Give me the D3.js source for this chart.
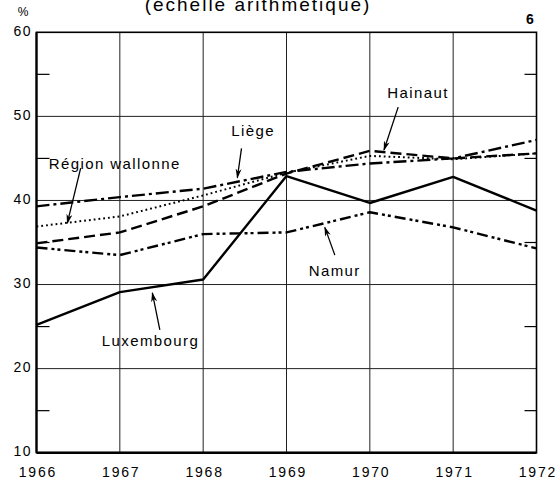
<!DOCTYPE html>
<html>
<head>
<meta charset="utf-8">
<script src="https://cdn.jsdelivr.net/npm/d3@7"></script>
<style>
  body { margin: 0; background: #fff; }
  svg { display: block; font-family: "Liberation Sans", Arial, sans-serif; }
</style>
</head>
<body>
<script>
//data
var years = [1966, 1967, 1968, 1969, 1970, 1971, 1972];
var yTicks = [10, 20, 30, 40, 50, 60];
var halfTicks = [15, 25, 35, 45, 55];

var luxembourg = [25.2, 29.1, 30.6, 42.9, 39.7, 42.8, 38.8];
var namur = [34.4, 33.5, 36.0, 36.2, 38.6, 36.8, 34.3];
var hainaut = [34.9, 36.2, 39.3, 43.2, 45.9, 45.0, 45.6];
var liege = [39.3, 40.4, 41.4, 43.4, 44.4, 45.0, 47.2];
var wallonie = [36.9, 38.1, 40.6, 43.3, 45.3, 44.9, 45.6];

var seriesNames = ["Région wallonne", "Liège", "Hainaut", "Namur", "Luxembourg"];

//label + arrow, in data units
var notes = [
    {text: "Hainaut", x: 1970.57, y: 52.2, from: [1970.34, 51.1], to: [1970.17, 46.0]},
    {text: "Liège", x: 1968.59, y: 47.7, from: [1968.46, 46.2], to: [1968.41, 42.7]},
    {text: "Région wallonne", x: 1966.93, y: 43.8, from: [1966.53, 43.85], to: [1966.37, 37.3]},
    {text: "Namur", x: 1969.57, y: 31.0, from: [1969.58, 33.5], to: [1969.46, 36.8]},
    {text: "Luxembourg", x: 1967.36, y: 22.7, from: [1967.48, 24.6], to: [1967.39, 29.0]}
];

var w = 558, h = 479;
var pLeft = 36.5, pRight = 536.5, pTop = 32.3, pBottom = 452.7;

var svg = d3.select("body").append("svg")
    .attr("width", w)
    .attr("height", h);

var x = d3.scaleLinear().domain([1966, 1972]).range([pLeft, pRight]);
var y = d3.scaleLinear().domain([10, 60]).range([pBottom, pTop]);

//title, cut at the top of the page
svg.append("text")
    .attr("x", 258).attr("y", 11)
    .attr("text-anchor", "middle")
    .style("font-size", "19px")
    .style("letter-spacing", "2px")
    .text("(échelle arithmétique)");

svg.append("text")
    .attr("x", 530).attr("y", 24)
    .attr("text-anchor", "middle")
    .style("font-size", "14px").style("font-weight", "bold")
    .text("6");

svg.append("text")
    .attr("x", 23).attr("y", 16)
    .attr("text-anchor", "middle")
    .style("font-size", "12px")
    .text("%");

//grid
svg.append("g").selectAll("line")
    .data(years.slice(1, -1))
    .enter().append("line")
    .attr("x1", function(d){ return x(d); })
    .attr("x2", function(d){ return x(d); })
    .attr("y1", pTop).attr("y2", pBottom)
    .style("stroke", "#222").style("stroke-width", 1);

svg.append("g").selectAll("line")
    .data(yTicks.slice(1, -1))
    .enter().append("line")
    .attr("x1", pLeft).attr("x2", pRight)
    .attr("y1", function(d){ return y(d); })
    .attr("y2", function(d){ return y(d); })
    .style("stroke", "#222").style("stroke-width", 1);

//short ticks on both sides
halfTicks.forEach(function(v){
    svg.append("line").attr("x1", pLeft).attr("x2", pLeft + 13)
        .attr("y1", y(v)).attr("y2", y(v))
        .style("stroke", "#000").style("stroke-width", 1.2);
    svg.append("line").attr("x1", pRight - 12).attr("x2", pRight)
        .attr("y1", y(v)).attr("y2", y(v))
        .style("stroke", "#000").style("stroke-width", 1.2);
});

//frame
svg.append("rect")
    .attr("x", pLeft).attr("y", pTop)
    .attr("width", pRight - pLeft).attr("height", pBottom - pTop)
    .style("fill", "none").style("stroke", "#000").style("stroke-width", 1.6);
svg.append("line").attr("x1", pLeft).attr("x2", pRight)
    .attr("y1", pBottom).attr("y2", pBottom)
    .style("stroke", "#000").style("stroke-width", 2.4);
svg.append("line").attr("x1", pLeft).attr("x2", pLeft)
    .attr("y1", pTop).attr("y2", pBottom)
    .style("stroke", "#000").style("stroke-width", 2.2);

//axes (labels only)
var xAxis = svg.append("g")
    .attr("transform", "translate(0," + pBottom + ")")
    .call(d3.axisBottom(x).tickValues(years).tickFormat(d3.format("d")).tickSize(0).tickPadding(14));
xAxis.select(".domain").remove();
xAxis.selectAll("text").style("font-size", "14px").style("fill", "#000")
    .style("letter-spacing", "1.8px").attr("dx", "0.9px")
    .style("font-family", "'Liberation Sans', Arial, sans-serif");

var yAxis = svg.append("g")
    .attr("transform", "translate(" + pLeft + ",0)")
    .call(d3.axisLeft(y).tickValues(yTicks).tickSize(0).tickPadding(6));
yAxis.select(".domain").remove();
yAxis.selectAll("text").style("font-size", "14px").style("fill", "#000")
    .style("letter-spacing", "1.5px").attr("dx", "1.5px")
    .attr("dy", "0.2em")
    .style("font-family", "'Liberation Sans', Arial, sans-serif");

//series
var line = d3.line()
    .x(function(d, i){ return x(years[i]); })
    .y(function(d){ return y(d); });

var series = [
    {name: seriesNames[0], values: wallonie, dash: "1.8,3", width: 2},
    {name: seriesNames[1], values: liege, dash: "13,4,3,4", width: 2.4},
    {name: seriesNames[2], values: hainaut, dash: "11,5", width: 2.4},
    {name: seriesNames[3], values: namur, dash: "11,4,3,3,3,4", width: 2.4},
    {name: seriesNames[4], values: luxembourg, dash: null, width: 2.4}
];

//arrows
svg.append("defs").append("marker")
    .attr("id", "head")
    .attr("viewBox", "0 0 10 6")
    .attr("refX", 9).attr("refY", 3)
    .attr("markerWidth", 10).attr("markerHeight", 6)
    .attr("markerUnits", "userSpaceOnUse")
    .attr("orient", "auto")
    .append("path")
    .attr("d", "M0,0 L10,3 L0,6 L3,3 Z")
    .style("fill", "#000");

svg.append("g").selectAll("line")
    .data(notes)
    .enter().append("line")
    .attr("x1", function(d){ return x(d.from[0]); })
    .attr("y1", function(d){ return y(d.from[1]); })
    .attr("x2", function(d){ return x(d.to[0]); })
    .attr("y2", function(d){ return y(d.to[1]); })
    .attr("marker-end", "url(#head)")
    .style("stroke", "#000").style("stroke-width", 1.3);

svg.append("g").selectAll("path")
    .data(series)
    .enter().append("path")
    .attr("d", function(d){ return line(d.values); })
    .style("fill", "none")
    .style("stroke", "#000")
    .style("stroke-width", function(d){ return d.width; })
    .style("stroke-dasharray", function(d){ return d.dash; })
    .style("stroke-linejoin", "round");

svg.append("g").selectAll("text")
    .data(notes)
    .enter().append("text")
    .attr("x", function(d){ return x(d.x); })
    .attr("y", function(d){ return y(d.y); })
    .attr("dx", "0.7px")
    .attr("text-anchor", "middle")
    .style("font-size", "15px")
    .style("letter-spacing", "1.4px")
    .text(function(d){ return d.text; });
</script>
</body>
</html>
